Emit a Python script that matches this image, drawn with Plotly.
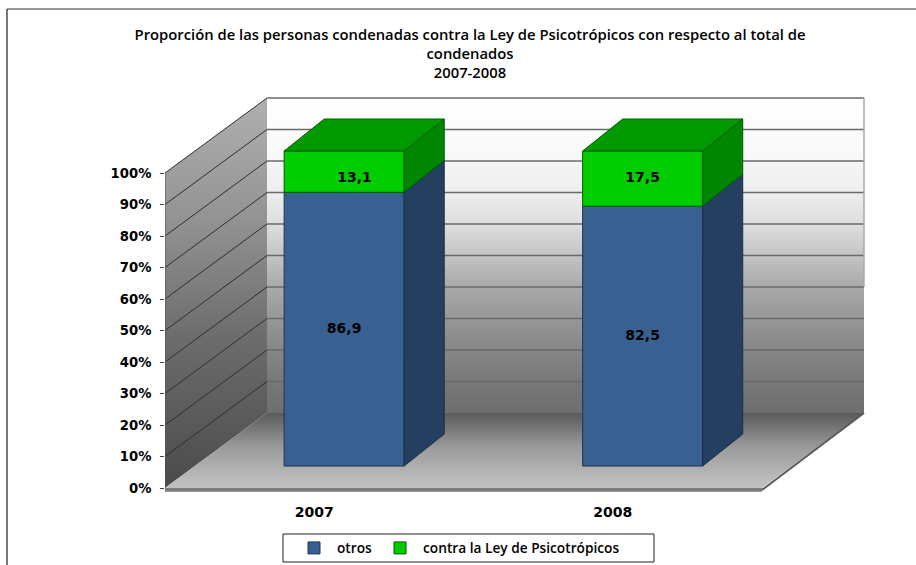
import plotly.graph_objects as go

# ---- data ----
categories = ["2007", "2008"]
otros = [86.9, 82.5]
contra = [13.1, 17.5]
otros_labels = ["86,9", "82,5"]
contra_labels = ["13,1", "17,5"]
series_names = ["otros", "contra la Ley de Psicotrópicos"]
y_ticks = [0, 10, 20, 30, 40, 50, 60, 70, 80, 90, 100]
y_tick_labels = [f"{v}%" for v in y_ticks]
title_text = ("Proporción de las personas condenadas contra la Ley de Psicotrópicos con respecto al total de"
              "<br>condenados<br>2007-2008")

# ---- oblique projection settings ----
W, H = 916, 565
L, R, T, B = 165, 870, 90, 495     # pixel box of the 3D scene
PX_X, PX_Y = 298.5, 3.15
DX, DY = 102 / PX_X, 75 / PX_Y      # shift of the back wall, in axis units
D0, D1 = 0.293, 0.72                # front/back depth of the columns
D1_X = 0.686                        # horizontal depth of the column backs
BAR_W = 120 / PX_X
NUM = dict(family="DejaVu Sans", size=14, color="black", weight=700)
NUM_Y = dict(family="DejaVu Sans", size=13.2, color="black", weight=700)
TXT = dict(family="Open Sans", size=13.7, color="black", weight=600)
xmax = 2.0
ymax = 100.0


def P(x, y, d=0.0):
    return x + d * DX, y + d * DY


def Pb(x, y):
    """Back corner of a column."""
    return x + D1_X * DX, y + D1 * DY


def poly(points, color=None, line=None, lw=1, zorder=0, gradient=None):
    xs, ys = zip(*(list(points) + [points[0]]))
    kw = dict(fillgradient=gradient) if gradient else dict(fillcolor=color)
    return go.Scatter(x=xs, y=ys, mode="lines", fill="toself", hoverinfo="skip", showlegend=False,
                      line=dict(color=line or "rgba(0,0,0,0)", width=lw), zorder=zorder, **kw)


def seg(a, b, color, lw=1, zorder=1):
    return go.Scatter(x=[a[0], b[0]], y=[a[1], b[1]], mode="lines", hoverinfo="skip", showlegend=False,
                      line=dict(color=color, width=lw), zorder=zorder)


def vgrad(stops):
    return dict(type="vertical", colorscale=stops)


fig = go.Figure()

# back wall
fig.add_trace(poly([P(0, 0, 1), P(xmax, 0, 1), P(xmax, ymax, 1), P(0, ymax, 1)], gradient=vgrad(
    [[0, "#6e6e6e"], [0.1, "#787878"], [0.25, "#8e8e8e"], [0.405, "#aaaaaa"], [0.5, "#c4c4c4"],
     [0.6, "#dedede"], [0.7, "#eeeeee"], [0.85, "#fafafa"], [1, "#ffffff"]])))
# left wall
fig.add_trace(poly([P(0, 0, 0), P(0, 0, 1), P(0, ymax, 1), P(0, ymax, 0)], gradient=vgrad(
    [[0, "#4a4a4a"], [0.4, "#6e6e6e"], [0.7, "#949494"], [1, "#b0b0b0"]])))
# floor
fig.add_trace(poly([P(0, 0, 0), P(xmax, 0, 0), P(xmax, 0, 1), P(0, 0, 1)], gradient=vgrad(
    [[0, "#c0c0c0"], [0.1, "#bdbdbd"], [0.55, "#9a9a9a"], [1, "#5a5a5a"]])))
# floor front edge
fig.add_trace(poly([P(0, 0, 0), P(xmax, 0, 0), (xmax, -1.2), (0, -1.2)], color="#7d7d7d"))
fig.add_trace(seg(P(xmax, -0.6, 0), P(xmax, 0, 1), "#5a5a5a", 2))

# grid on walls
for v in y_ticks[1:]:
    fig.add_trace(seg(P(0, v, 0), P(0, v, 1), "#2e2e2e", 1))
    fig.add_trace(seg(P(0, v, 1), P(xmax, v, 1), "#6a6a6a", 1.5))
fig.add_trace(seg(P(0, 0, 0), P(0, ymax, 0), "#555555", 1))
fig.add_trace(seg(P(xmax, 40, 1), P(xmax, ymax, 1), "#aaaaaa", 1.5))

# columns
centers = [i + 0.5 for i in range(len(categories))]
bar_x = [P(c, 0, D0)[0] for c in centers]
base0 = P(0, 0, D0)[1]
BLUE, GREEN = "#386192", "#00cc00"
fig.add_trace(go.Bar(x=bar_x, y=otros, base=[base0] * 2, width=BAR_W, name=series_names[0],
                     marker=dict(color=BLUE, line=dict(color="#1f3550", width=1)), zorder=2, hoverinfo="skip"))
fig.add_trace(go.Bar(x=bar_x, y=contra, base=[base0 + v for v in otros], width=BAR_W, name=series_names[1],
                     marker=dict(color=GREEN, line=dict(color="#006000", width=1)), zorder=2, hoverinfo="skip"))

for c, lo, up in zip(centers, otros, contra):
    r = c + BAR_W / 2
    l = c - BAR_W / 2
    top = lo + up
    # sides
    fig.add_trace(poly([P(r, 0, D0), Pb(r, 0), Pb(r, lo), P(r, lo, D0)], color="#243f5f", line="#1a2f48", zorder=3))
    fig.add_trace(poly([P(r, lo, D0), Pb(r, lo), Pb(r, top), P(r, top, D0)], color="#008600", line="#005a00", zorder=3))
    # top
    fig.add_trace(poly([P(l, top, D0), P(r, top, D0), Pb(r, top), Pb(l, top)], color="#009a00", line="#006000", zorder=3))

# value labels
label_nudge_x = [0.035, 0.0]
label_nudge_y = [-2.2, 0.0]
fig.add_trace(go.Scatter(
    x=bar_x + [x + n for x, n in zip(bar_x, label_nudge_x)],
    y=[base0 + v / 2 for v in otros] + [base0 + a + b / 2 + n for a, b, n in zip(otros, contra, label_nudge_y)],
    text=otros_labels + contra_labels, mode="text", textposition="middle center",
    textfont=NUM, hoverinfo="skip", showlegend=False, zorder=4))


# paper spans the whole height below T; the y axis domain leaves room for tick labels and the legend
def fx(p):
    return (p - L) / (R - L)


def fy(p):
    return (H - p) / (H - T)


fig.update_layout(
    width=W, height=H, autosize=False,
    margin=dict(l=L, r=W - R, t=T, b=0),
    paper_bgcolor="white", plot_bgcolor="white",
    barmode="overlay", font=TXT,
    title=dict(text=title_text, x=470 / W, xanchor="center", y=1 - 40 / H, yanchor="top",
               font=dict(family="Open Sans", size=14.8, color="black", weight=600)),
    xaxis=dict(range=[0, (R - L) / PX_X], tickvals=centers, ticktext=categories, showgrid=False, zeroline=False,
               showline=False, ticks="", tickfont=NUM, ticklabelstandoff=7),
    yaxis=dict(domain=[fy(B), 1], range=[-(B - 488) / PX_Y, (488 - T) / PX_Y], tickvals=y_ticks,
               ticktext=y_tick_labels, showgrid=False, zeroline=False, showline=False, ticks="outside",
               ticklen=4, tickcolor="#444", tickfont=NUM_Y, ticklabelstandoff=6),
    legend=dict(orientation="h", x=fx(291), xanchor="left", y=fy(548), yanchor="middle", bgcolor="rgba(0,0,0,0)",
                borderwidth=0, font=TXT, traceorder="normal", itemclick=False, itemdoubleclick=False, itemwidth=36),
    shapes=[
        dict(type="line", xref="paper", yref="paper", x0=fx(7), x1=fx(7), y0=fy(9), y1=fy(565),
             line=dict(color="#777", width=2)),
        dict(type="line", xref="paper", yref="paper", x0=fx(7), x1=fx(916), y0=fy(9), y1=fy(9),
             line=dict(color="#333", width=1)),
        dict(type="rect", xref="paper", yref="paper", x0=fx(283), x1=fx(654), y0=fy(534), y1=fy(562),
             line=dict(color="#222", width=1), fillcolor="white", layer="below"),
    ],
)

fig.write_html("out.html", config={"displayModeBar": False},
               post_script="document.body.style.margin='0';document.body.style.overflow='hidden';")
